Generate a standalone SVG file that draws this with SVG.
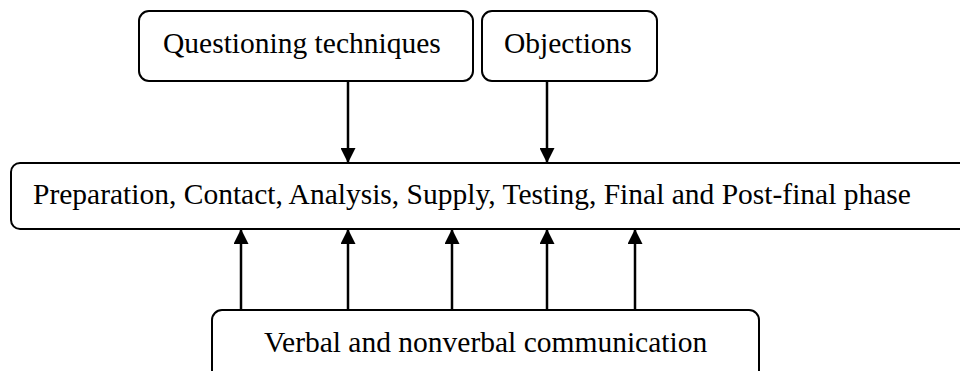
<svg xmlns="http://www.w3.org/2000/svg" width="960" height="371" viewBox="0 0 960 371">
<defs>
<marker id="arr" viewBox="0 0 10 10" refX="10" refY="5" markerWidth="16" markerHeight="15" markerUnits="userSpaceOnUse" orient="auto">
<path d="M0,0 L10,5 L0,10 Z" fill="#000"/>
</marker>
<style>
.box{fill:#fff;stroke:#000;stroke-width:2}
.t{font-family:"Liberation Serif","Times New Roman",serif;font-size:29.5px;fill:#000}
.c{stroke:#000;stroke-width:2.5;fill:none;marker-end:url(#arr)}
</style>
</defs>
<g id="n-questioning">
<rect class="box" x="139" y="11" width="334" height="70" rx="10"/>
<text class="t" x="163" y="53">Questioning techniques</text>
</g>
<g id="n-objections">
<rect class="box" x="482" y="11" width="175" height="70" rx="10"/>
<text class="t" x="504" y="53">Objections</text>
</g>
<g id="n-phases">
<rect class="box" x="11" y="163" width="980" height="66" rx="9"/>
<text class="t" x="33" y="204">Preparation, Contact, Analysis, Supply, Testing, Final and Post-final phase</text>
</g>
<g id="n-communication">
<rect class="box" x="212" y="310" width="547" height="80" rx="10"/>
<text class="t" x="264" y="352">Verbal and nonverbal communication</text>
</g>
<g id="connectors">
<line class="c" x1="348" y1="81" x2="348" y2="163"/>
<line class="c" x1="547" y1="81" x2="547" y2="163"/>
<line class="c" x1="241" y1="310" x2="241" y2="229"/>
<line class="c" x1="348" y1="310" x2="348" y2="229"/>
<line class="c" x1="452" y1="310" x2="452" y2="229"/>
<line class="c" x1="547" y1="310" x2="547" y2="229"/>
<line class="c" x1="635" y1="310" x2="635" y2="229"/>
</g>
</svg>
